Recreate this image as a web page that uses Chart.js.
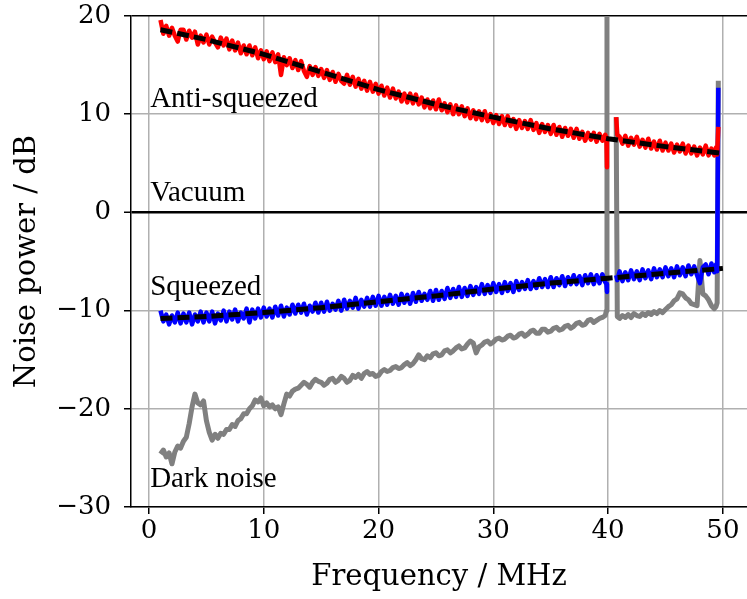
<!DOCTYPE html>
<html>
<head>
<meta charset="utf-8">
<script src="https://cdn.jsdelivr.net/npm/chart.js"></script>
<style>
html, body { margin: 0; padding: 0; background: #fff; }
#wrap { width: 747px; height: 599px; }
</style>
</head>
<body>
<div id="wrap"><canvas id="noiseChart" width="747" height="599"></canvas></div>
<script>
// frequency axis in MHz (gap around the 40 MHz notch)
const freq = [
  1.0, 1.25, 1.5, 1.75, 2.0, 2.25, 2.5, 2.75,
  3.0, 3.25, 3.5, 3.75, 4.0, 4.25, 4.5, 4.75,
  5.0, 5.25, 5.5, 5.75, 6.0, 6.25, 6.5, 6.75,
  7.0, 7.25, 7.5, 7.75, 8.0, 8.25, 8.5, 8.75,
  9.0, 9.25, 9.5, 9.75, 10.0, 10.25, 10.5, 10.75,
  11.0, 11.25, 11.5, 11.75, 12.0, 12.25, 12.5, 12.75,
  13.0, 13.25, 13.5, 13.75, 14.0, 14.25, 14.5, 14.75,
  15.0, 15.25, 15.5, 15.75, 16.0, 16.25, 16.5, 16.75,
  17.0, 17.25, 17.5, 17.75, 18.0, 18.25, 18.5, 18.75,
  19.0, 19.25, 19.5, 19.75, 20.0, 20.25, 20.5, 20.75,
  21.0, 21.25, 21.5, 21.75, 22.0, 22.25, 22.5, 22.75,
  23.0, 23.25, 23.5, 23.75, 24.0, 24.25, 24.5, 24.75,
  25.0, 25.25, 25.5, 25.75, 26.0, 26.25, 26.5, 26.75,
  27.0, 27.25, 27.5, 27.75, 28.0, 28.25, 28.5, 28.75,
  29.0, 29.25, 29.5, 29.75, 30.0, 30.25, 30.5, 30.75,
  31.0, 31.25, 31.5, 31.75, 32.0, 32.25, 32.5, 32.75,
  33.0, 33.25, 33.5, 33.75, 34.0, 34.25, 34.5, 34.75,
  35.0, 35.25, 35.5, 35.75, 36.0, 36.25, 36.5, 36.75,
  37.0, 37.25, 37.5, 37.75, 38.0, 38.25, 38.5, 38.75,
  39.0, 39.25, 39.5, 39.75,
  39.85, 39.9, 40.3, 40.7, 40.8,
  41.0, 41.25, 41.5, 41.75, 42.0, 42.25, 42.5, 42.75,
  43.0, 43.25, 43.5, 43.75, 44.0, 44.25, 44.5, 44.75,
  45.0, 45.25, 45.5, 45.75, 46.0, 46.25, 46.5, 46.75,
  47.0, 47.25, 47.5, 47.75, 48.0, 48.25, 48.5, 48.75,
  49.0, 49.25, 49.4, 49.5, 49.6
];

const antiSqueezed = [
  19.6, 18.2, 19.0, 18.0, 18.8, 18.0, 17.4, 18.6,
  18.6, 17.6, 18.5, 17.8, 18.4, 17.1, 18.0, 17.3,
  18.1, 17.1, 17.9, 17.3, 16.8, 17.8, 17.0, 17.7,
  16.6, 17.5, 16.5, 17.3, 16.2, 17.0, 16.1, 17.0,
  16.0, 16.8, 15.7, 16.5, 15.6, 16.4, 15.4, 16.3,
  15.3, 16.1, 14.0, 15.8, 15.0, 15.7, 14.7, 15.5,
  14.5, 15.4, 14.4, 13.8, 14.9, 14.0, 14.8, 13.9,
  14.6, 13.7, 14.5, 13.5, 14.3, 13.3, 14.1, 13.4,
  13.1, 14.0, 13.0, 13.8, 12.8, 13.6, 12.6, 13.4,
  12.4, 13.3, 12.3, 13.1, 12.1, 12.9, 11.9, 12.7,
  11.7, 12.6, 11.6, 12.3, 11.3, 12.1, 11.2, 12.1,
  11.1, 12.0, 11.0, 11.7, 10.7, 11.5, 10.6, 11.4,
  10.5, 11.5, 10.4, 11.1, 10.2, 11.0, 10.0, 10.9,
  10.0, 10.8, 9.8, 10.6, 9.6, 10.4, 9.5, 10.3,
  9.4, 10.3, 9.3, 10.0, 9.1, 9.9, 9.0, 9.8,
  8.9, 9.8, 8.8, 9.5, 8.5, 9.4, 8.6, 9.3,
  8.5, 9.4, 8.4, 9.1, 8.1, 9.0, 8.2, 8.9,
  8.0, 8.9, 7.9, 8.7, 7.7, 8.6, 7.8, 8.5,
  7.6, 8.5, 7.5, 8.2, 7.3, 8.1, 7.4, 8.1,
  7.2, 8.0, 7.3, 7.9,
  7.6, 4.6, null, 9.7, 7.9,
  7.7, 7.0, 7.8, 6.8, 7.6, 6.9, 7.7, 6.7,
  7.4, 6.6, 7.5, 6.5, 7.2, 6.4, 7.3, 6.3,
  7.1, 6.3, 7.0, 6.1, 6.9, 6.2, 7.0, 6.0,
  6.8, 6.0, 6.7, 5.8, 6.6, 5.9, 6.8, 5.8,
  6.5, 5.8, 6.6, 5.9, 8.7
];

const squeezed = [
  -10.0, -11.1, -10.4, -11.4, -10.5, -11.2, -10.2, -11.3,
  -10.3, -11.2, -10.2, -11.4, -10.4, -11.1, -10.1, -11.2,
  -10.2, -11.1, -10.1, -11.3, -10.3, -11.0, -10.0, -11.1,
  -10.1, -10.9, -9.9, -11.1, -10.2, -10.8, -9.8, -11.2,
  -9.9, -10.8, -9.8, -10.7, -9.7, -10.6, -9.8, -10.7,
  -9.6, -10.5, -9.5, -10.6, -9.7, -10.4, -9.4, -10.3,
  -9.4, -10.2, -9.3, -10.4, -9.5, -10.1, -9.2, -10.2,
  -9.2, -10.1, -9.1, -10.0, -9.3, -9.9, -9.0, -10.0,
  -8.9, -9.8, -9.0, -9.7, -8.7, -9.8, -8.9, -9.6,
  -8.7, -9.6, -8.6, -9.5, -8.5, -9.5, -8.6, -9.4,
  -8.4, -9.3, -8.5, -9.4, -8.3, -9.2, -8.4, -9.3,
  -8.2, -9.1, -8.1, -9.0, -8.3, -8.9, -8.0, -9.0,
  -7.9, -8.9, -8.0, -8.8, -7.7, -8.7, -7.8, -8.6,
  -7.6, -8.6, -7.7, -8.5, -7.5, -8.4, -7.6, -8.3,
  -7.3, -8.3, -7.4, -8.2, -7.2, -8.1, -7.3, -8.2,
  -7.1, -8.0, -7.2, -8.1, -7.0, -7.9, -7.1, -7.8,
  -6.9, -7.8, -7.0, -7.7, -6.7, -7.6, -6.8, -7.6,
  -6.6, -7.6, -6.7, -7.4, -6.5, -7.5, -6.6, -7.3,
  -6.4, -7.3, -6.5, -7.4, -6.4, -7.2, -6.3, -7.3,
  -6.4, -7.2, -6.3, -7.1,
  -7.3, -8.1, null, -6.4, -6.9,
  -6.0, -7.0, -6.1, -6.9, -5.9, -6.8, -6.0, -6.9,
  -5.8, -6.7, -5.9, -6.8, -5.7, -6.6, -5.8, -6.6,
  -5.6, -6.5, -5.7, -6.6, -5.5, -6.4, -5.6, -6.5,
  -5.4, -6.3, -5.5, -6.4, -7.2, -5.6, -5.3, -6.3,
  -5.2, -6.1, -5.3, -6.0, 12.7
];

const darkNoise = [
  -24.6, -24.2, -24.9, -24.5, -25.6, -24.4, -23.8, -24.0,
  -23.3, -22.9, -21.5, -19.8, -18.5, -19.4, -19.6, -19.2,
  -21.2, -22.4, -23.2, -22.6, -23.0, -22.5, -22.6, -22.1,
  -22.1, -21.6, -21.8, -21.2, -21.0, -20.5, -20.5, -20.0,
  -19.7, -19.1, -19.3, -18.9, -19.7, -19.4, -19.8, -19.6,
  -20.0, -19.8, -20.6, -19.5, -18.5, -18.7, -18.2, -18.0,
  -17.9, -17.6, -17.3, -17.5, -17.8, -17.3, -17.0, -17.2,
  -17.3, -17.6, -17.4, -17.0, -16.9, -17.3, -17.1, -16.7,
  -16.9, -17.3, -17.1, -16.6, -16.8, -16.5, -16.9, -16.4,
  -16.2, -16.5, -16.4, -16.7, -16.6, -16.2, -16.0, -16.2,
  -16.1, -15.8, -15.7, -15.9, -15.8, -15.5, -15.3, -15.6,
  -15.4, -15.0, -14.5, -14.9, -15.0, -14.6, -14.8, -14.4,
  -14.3, -14.6, -14.5, -14.1, -14.0, -14.3, -14.1, -13.8,
  -13.6, -13.9, -13.8, -13.4, -13.1, -13.3, -14.3, -13.7,
  -13.5, -13.2, -13.1, -13.4, -13.2, -12.9, -12.8, -13.0,
  -12.9, -12.6, -12.5, -12.8, -12.7, -12.4, -12.3, -12.6,
  -12.4, -12.1, -12.0, -12.3, -12.3, -11.9, -11.9, -12.2,
  -12.1, -11.8, -11.7, -12.0, -11.9, -11.6, -11.5, -11.8,
  -11.6, -11.3, -11.2, -11.5, -11.4, -11.0, -10.9, -11.2,
  -11.0, -10.8, -10.7, -10.5,
  -10.0, 25.0, null, 9.7, -10.6,
  -10.8, -10.5, -10.7, -10.4, -10.7, -10.3, -10.5, -10.6,
  -10.3, -10.5, -10.2, -10.4, -10.1, -10.3, -10.0, -10.2,
  -9.9, -9.6, -9.4, -9.0, -8.8, -8.2, -8.3, -8.7,
  -8.9, -9.3, -9.4, -9.5, -4.9, -8.3, -8.5, -8.9,
  -9.5, -9.8, -9.6, -9.2, 13.4
];

// fitted curves
const fitFreq = [1, 5, 10, 15, 20, 25, 30, 35, 40, 45, 50];
const antiFit = [18.6, 17.6, 16.1, 14.3, 12.5, 11.0, 9.7, 8.5, 7.5, 6.7, 6.0];
const squeezedFit = [-10.8, -10.6, -10.2, -9.7, -9.1, -8.5, -7.8, -7.2, -6.7, -6.2, -5.7];

// text labels on the plot
const labelText = ["Anti-squeezed", "Vacuum", "Squeezed", "Dark noise"];
const labelY = [10.7, 1.2, -8.4, -28.0];
const labelX = 0.1;

const xTicks = [0, 10, 20, 30, 40, 50];
const yTicks = [-30, -20, -10, 0, 10, 20];

function pts(xs, ys) {
  return xs.map((x, i) => ({ x: x, y: ys[i] }));
}

const tickFont = { family: "'DejaVu Serif'", size: 26 };
const titleFont = { family: "'DejaVu Serif'", size: 29 };

const plotLabels = {
  id: "plotLabels",
  afterDatasetsDraw(chart) {
    const ctx = chart.ctx;
    const xs = chart.scales.x, ys = chart.scales.y;
    ctx.save();
    ctx.font = "29px 'Liberation Serif'";
    ctx.fillStyle = "#000";
    ctx.textAlign = "left";
    ctx.textBaseline = "alphabetic";
    labelText.forEach((t, i) => {
      ctx.fillText(t, xs.getPixelForValue(labelX), ys.getPixelForValue(labelY[i]));
    });
    ctx.restore();
  }
};

new Chart(document.getElementById("noiseChart").getContext("2d"), {
  type: "scatter",
  data: {
    datasets: [
      { data: pts(fitFreq, antiFit), borderColor: "#000", borderWidth: 5, borderDash: [12, 5] },
      { data: pts(fitFreq, squeezedFit), borderColor: "#000", borderWidth: 5, borderDash: [12, 5] },
      { data: pts(freq, antiSqueezed), borderColor: "#ff0000", borderWidth: 4.5 },
      { data: pts(freq, squeezed), borderColor: "#0000ff", borderWidth: 4.5 },
      { data: pts(freq, darkNoise), borderColor: "#808080", borderWidth: 5 }
    ].map(d => Object.assign(d, {
      showLine: true, pointRadius: 0, fill: false, tension: 0, spanGaps: false,
      borderJoinStyle: "round"
    }))
  },
  options: {
    responsive: false,
    animation: false,
    layout: { padding: { top: 16, right: 0, bottom: 0, left: 0 } },
    plugins: { legend: { display: false }, tooltip: { enabled: false } },
    scales: {
      x: {
        type: "linear",
        min: -1.57,
        max: 52.1,
        afterBuildTicks: s => { s.ticks = xTicks.map(v => ({ value: v })); },
        afterFit: s => { s.height = 92; s.paddingLeft = 0; s.paddingRight = 0; },
        ticks: { font: tickFont, color: "#000", padding: 2, maxRotation: 0 },
        grid: { color: "#b0b0b0", lineWidth: 1.5, tickColor: "#000", tickLength: 7, tickWidth: 1.5 },
        border: { display: true, color: "#000", width: 1.5 },
        title: { display: true, text: "Frequency / MHz", font: titleFont, color: "#000", padding: { top: 0, bottom: 4 } }
      },
      y: {
        min: -30,
        max: 20,
        afterBuildTicks: s => { s.ticks = yTicks.map(v => ({ value: v })); },
        afterFit: s => { s.width = 131; s.paddingTop = 0; s.paddingBottom = 0; },
        ticks: {
          font: tickFont, color: "#000", padding: 13,
          callback: v => (v < 0 ? "\u2212" + Math.abs(v) : String(v))
        },
        grid: {
          color: c => (c.tick && (c.tick.value === 0 || c.tick.value === 20) ? "#000" : "#b0b0b0"),
          lineWidth: c => (c.tick && c.tick.value === 0 ? 2.5 : 1.5),
          tickColor: "#000", tickLength: 7, tickWidth: 1.5
        },
        border: { display: true, color: "#000", width: 1.5 },
        title: { display: true, text: "Noise power / dB", font: titleFont, color: "#000", padding: { top: 10, bottom: 0 } }
      }
    }
  },
  plugins: [plotLabels]
});
</script>
</body>
</html>
